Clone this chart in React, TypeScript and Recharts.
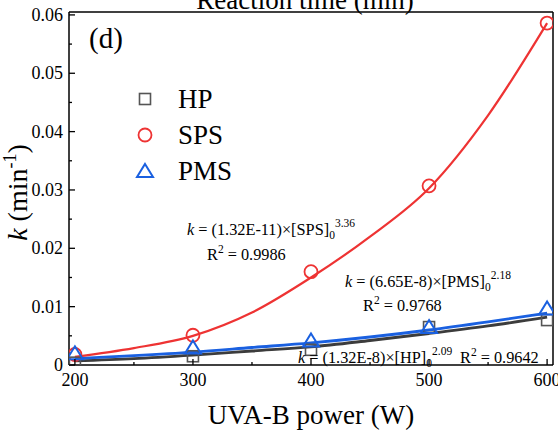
import React from "react";
import { ComposedChart, Line, Scatter, XAxis, YAxis, ReferenceLine, Legend } from "recharts";

const FONT = '"Liberation Serif", "Times New Roman", serif';

// measured rate constants vs. lamp power
const powers = [200, 300, 400, 500, 600];
const hpK = [0.0004, 0.0015, 0.0026, 0.0065, 0.0077];
const spsK = [0.0018, 0.0051, 0.016, 0.0307, 0.0586];
const pmsK = [0.002, 0.003, 0.0042, 0.0065, 0.0097];

// power-law fit curves, sampled every 50 W
const fitPowers = [200, 250, 300, 350, 400, 450, 500, 550, 600];
const hpFit = [0.0007, 0.0011, 0.0017, 0.0024, 0.0031, 0.0042, 0.0054, 0.0067, 0.0082];
const spsFit = [0.0014, 0.0029, 0.005, 0.009, 0.015, 0.022, 0.0303, 0.0428, 0.0586];
const pmsFit = [0.0011, 0.0016, 0.0022, 0.003, 0.0038, 0.0048, 0.006, 0.0074, 0.0089];

const xTicks = [200, 250, 300, 350, 400, 450, 500, 550, 600];
const yTicks = [0, 0.005, 0.01, 0.015, 0.02, 0.025, 0.03, 0.035, 0.04, 0.045, 0.05, 0.055, 0.06];
const X_DOMAIN: [number, number] = [195, 605];
const Y_DOMAIN: [number, number] = [0, 0.0605];

const RED = "#ee3333";
const BLUE = "#1a60e0";
const GRAY = "#3c3c3c";

const toPts = (xs: number[], ys: number[]) => xs.map((p, i) => ({ p, k: ys[i] }));

// eslint-disable-next-line @typescript-eslint/no-explicit-any
const Square = ({ cx, cy }: any) => (
  <rect x={cx - 5.5} y={cy - 5.5} width={11} height={11} fill="none" stroke="#555" strokeWidth={1.6} />
);
// eslint-disable-next-line @typescript-eslint/no-explicit-any
const Circle = ({ cx, cy }: any) => <circle cx={cx} cy={cy} r={6.5} fill="none" stroke={RED} strokeWidth={1.8} />;
// eslint-disable-next-line @typescript-eslint/no-explicit-any
const Triangle = ({ cx, cy }: any) => (
  <polygon points={`${cx},${cy - 7} ${cx + 8},${cy + 6} ${cx - 8},${cy + 6}`} fill="none" stroke={BLUE} strokeWidth={2} />
);

const LEGEND = [
  { name: "HP", Marker: Square },
  { name: "SPS", Marker: Circle },
  { name: "PMS", Marker: Triangle },
];

// inward ticks, long on the labelled values
// eslint-disable-next-line @typescript-eslint/no-explicit-any
const XTick = ({ x, y, payload }: any) => {
  const major = payload.value % 100 === 0;
  return (
    <g>
      <line x1={x} x2={x} y1={y} y2={y - (major ? 6 : 3)} stroke="#000" strokeWidth={1.3} />
      {major && (
        <text x={x} y={y + 21} textAnchor="middle" fontSize={18} fontFamily={FONT} fill="#000">
          {payload.value}
        </text>
      )}
    </g>
  );
};

// eslint-disable-next-line @typescript-eslint/no-explicit-any
const YTick = ({ x, y, payload }: any) => {
  const major = Math.round(payload.value * 1000) % 10 === 0;
  return (
    <g>
      <line x1={x} x2={x + (major ? 6 : 3)} y1={y} y2={y} stroke="#000" strokeWidth={1.3} />
      {major && (
        <text x={x - 6} y={y + 6} textAnchor="end" fontSize={18} fontFamily={FONT} fill="#000">
          {payload.value === 0 ? "0" : payload.value.toFixed(2)}
        </text>
      )}
    </g>
  );
};

// eslint-disable-next-line @typescript-eslint/no-explicit-any
const YLabel = ({ viewBox }: any) => {
  const cx = 27;
  const cy = viewBox.y + viewBox.height / 2 + 4;
  return (
    <text x={cx} y={cy} transform={`rotate(-90 ${cx} ${cy})`} textAnchor="middle" fontSize={28} fontFamily={FONT} fill="#000">
      <tspan fontStyle="italic">k</tspan>
      <tspan> (min</tspan>
      <tspan fontSize={18} dy={-11}>-1</tspan>
      <tspan dy={11}>)</tspan>
    </text>
  );
};

const LegendBox = () => (
  <svg width={110} height={110}>
    {LEGEND.map(({ name, Marker }, i) => (
      <g key={name}>
        <Marker cx={10} cy={14 + i * 36} />
        <text x={43} y={23 + i * 36} fontSize={27} fontFamily={FONT} fill="#000">
          {name}
        </text>
      </g>
    ))}
  </svg>
);

const Eq = ({ x, y, a, s, n }: { x: number; y: number; a: string; s: string; n: string }) => (
  <text x={x} y={y} fontSize={16.3} fontFamily={FONT} fill="#000">
    <tspan fontStyle="italic">k</tspan>
    <tspan>{` = (${a})×[${s}]`}</tspan>
    <tspan fontSize={11.5} dy={4}>0</tspan>
    <tspan fontSize={11.5} dy={-12}>{n}</tspan>
  </text>
);

const R2 = ({ x, y, v }: { x: number; y: number; v: string }) => (
  <text x={x} y={y} fontSize={16.3} fontFamily={FONT} fill="#000">
    R<tspan fontSize={11.5} dy={-7}>2</tspan>
    <tspan dy={7}>{` = ${v}`}</tspan>
  </text>
);

export default function App() {
  return (
    <div style={{ position: "absolute", left: 0, top: 0, width: 558, height: 432, background: "#fff" }}>
      <ComposedChart width={558} height={432} margin={{ top: 12, right: 5, bottom: 0, left: 0 }}>
        <XAxis
          type="number"
          dataKey="p"
          domain={X_DOMAIN}
          ticks={xTicks}
          interval={0}
          allowDataOverflow
          height={67}
          tickSize={0}
          tickMargin={0}
          tickLine={false}
          tick={<XTick />}
          axisLine={{ stroke: "#000", strokeWidth: 1.5 }}
          label={{
            value: "UVA-B power (W)",
            position: "insideBottom",
            offset: 8,
            style: { fontSize: 27, fontFamily: FONT, fill: "#000" },
          }}
        />
        <YAxis
          type="number"
          dataKey="k"
          domain={Y_DOMAIN}
          ticks={yTicks}
          interval={0}
          allowDataOverflow
          width={69}
          tickSize={0}
          tickMargin={0}
          tickLine={false}
          tick={<YTick />}
          axisLine={{ stroke: "#000", strokeWidth: 1.5 }}
          label={<YLabel />}
        />
        <ReferenceLine y={Y_DOMAIN[1]} stroke="#000" strokeWidth={1.5} ifOverflow="visible" />
        <ReferenceLine x={X_DOMAIN[1]} stroke="#000" strokeWidth={1.5} ifOverflow="visible" />
        <Legend
          layout="vertical"
          align="center"
          verticalAlign="middle"
          wrapperStyle={{ left: 135, top: 85 }}
          content={<LegendBox />}
        />
        <Scatter name="SPS" data={toPts(powers, spsK)} shape={<Circle />} isAnimationActive={false} />
        <Scatter name="HP" data={toPts(powers, hpK)} shape={<Square />} isAnimationActive={false} />
        <Scatter name="PMS" data={toPts(powers, pmsK)} shape={<Triangle />} isAnimationActive={false} />
        <Line data={toPts(fitPowers, hpFit)} dataKey="k" type="monotone" stroke={GRAY} strokeWidth={2.8} dot={false} isAnimationActive={false} legendType="none" />
        <Line data={toPts(fitPowers, pmsFit)} dataKey="k" type="monotone" stroke={BLUE} strokeWidth={2.8} dot={false} isAnimationActive={false} legendType="none" />
        <Line data={toPts(fitPowers, spsFit)} dataKey="k" type="monotone" stroke={RED} strokeWidth={2.2} dot={false} isAnimationActive={false} legendType="none" />
      </ComposedChart>
      <svg width={558} height={432} style={{ position: "absolute", left: 0, top: 0, pointerEvents: "none" }}>
        <text x={305} y={9} textAnchor="middle" fontSize={27} fontFamily={FONT} fill="#000">
          Reaction time (min)
        </text>
        <text x={89} y={48} fontSize={29} fontFamily={FONT} fill="#000">
          (d)
        </text>
        <Eq x={187} y={235} a="1.32E-11" s="SPS" n="3.36" />
        <R2 x={207} y={260} v="0.9986" />
        <Eq x={345} y={287} a="6.65E-8" s="PMS" n="2.18" />
        <R2 x={363} y={311} v="0.9768" />
        <Eq x={298} y={363} a="1.32E-8" s="HP" n="2.09" />
        <R2 x={460} y={363} v="0.9642" />
      </svg>
    </div>
  );
}
